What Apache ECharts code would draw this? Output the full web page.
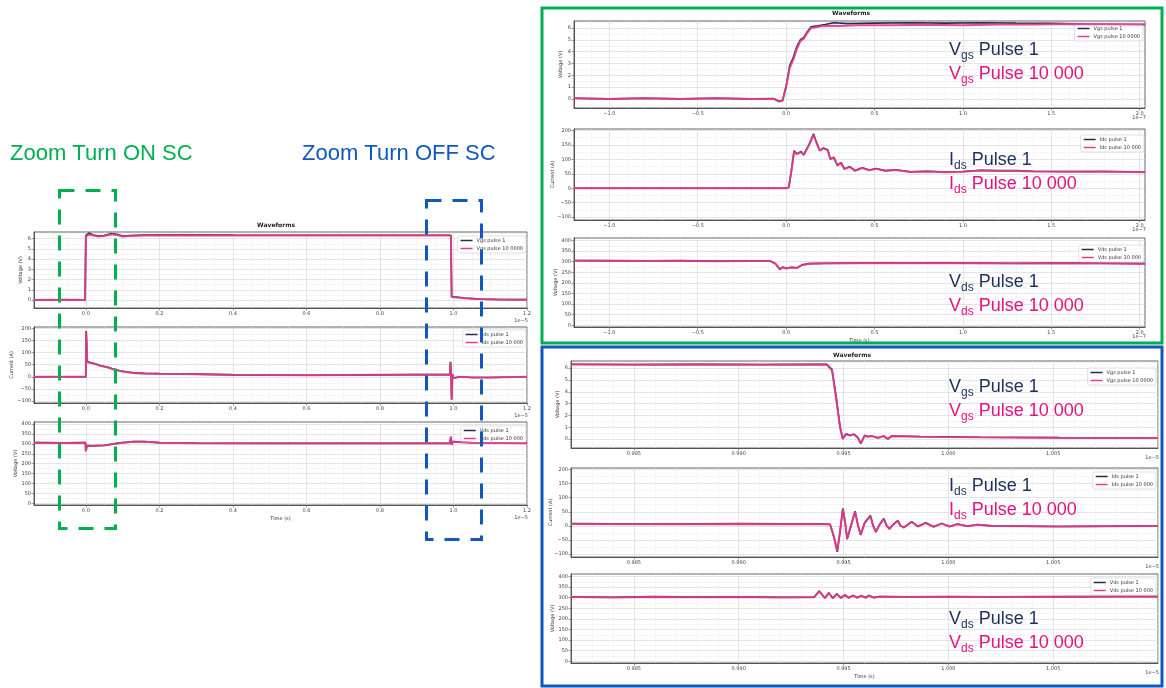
<!DOCTYPE html>
<html>
<head>
<meta charset="utf-8">
<script src="https://cdn.jsdelivr.net/npm/echarts@6/dist/echarts.min.js"></script>
<style>
html,body{margin:0;padding:0;background:#fff}
#chart{width:1166px;height:688px}
</style>
</head>
<body>
<div id="chart"></div>
<script>
// ---- Waveform samples (x in units of the axis offset: 1e-5 s or 1e-7 s) ----

// Full pulse, 1e-5 s
const fullVgsP1 = [[-0.141,0.03],[-0.1,0.0],[-0.06,0.05],[-0.02,0.0],[-0.002,0.02],[0.0,6.3],[0.008,6.55],[0.02,6.35],[0.035,6.25],[0.05,6.3],[0.07,6.5],[0.085,6.42],[0.1,6.25],[0.12,6.3],[0.16,6.36],[0.25,6.38],[0.4,6.35],[0.6,6.33],[0.8,6.33],[0.993,6.33],[0.995,0.35],[1.0,0.3],[1.03,0.2],[1.07,0.1],[1.12,0.06],[1.2,0.05]];
const fullVgsP10k = [[-0.141,0.02],[-0.1,0.04],[-0.06,0.0],[-0.02,0.03],[-0.002,0.0],[0.0,6.2],[0.008,6.4],[0.02,6.3],[0.035,6.2],[0.05,6.25],[0.07,6.42],[0.085,6.35],[0.1,6.2],[0.12,6.25],[0.16,6.3],[0.25,6.33],[0.4,6.32],[0.6,6.3],[0.8,6.3],[0.993,6.3],[0.995,0.3],[1.0,0.25],[1.03,0.18],[1.07,0.1],[1.12,0.05],[1.2,0.04]];
const fullIdsP1 = [[-0.141,0],[0.0,0],[0.001,188],[0.004,62],[0.01,60],[0.02,56],[0.04,46],[0.06,39],[0.08,29],[0.1,23],[0.13,16],[0.16,14],[0.2,13],[0.3,11],[0.4,8],[0.5,7],[0.6,6],[0.7,7],[0.8,8],[0.9,9],[0.99,9],[0.992,62],[0.994,-20],[0.995,-95],[0.997,12],[1.0,-5],[1.02,0],[1.05,-3],[1.1,-3],[1.2,0]];
const fullIdsP10k = [[-0.141,0],[0.0,0],[0.001,185],[0.004,60],[0.01,58],[0.02,55],[0.04,45],[0.06,38],[0.08,28],[0.1,22],[0.13,15],[0.16,13],[0.2,12],[0.3,10],[0.4,8],[0.5,7],[0.6,6],[0.7,7],[0.8,8],[0.9,8],[0.99,8],[0.992,60],[0.994,-20],[0.995,-92],[0.997,10],[1.0,-5],[1.02,0],[1.05,-3],[1.1,-3],[1.2,0]];
const fullVdsP1 = [[-0.141,306],[-0.05,305],[-0.001,306],[0.0,264],[0.003,291],[0.02,290],[0.05,293],[0.08,301],[0.1,306],[0.13,311],[0.16,311],[0.2,306],[0.3,304],[0.5,303],[0.7,303],[0.9,303],[0.99,303],[0.993,336],[0.995,296],[0.998,311],[1.02,309],[1.05,306],[1.2,304]];
const fullVdsP10k = [[-0.141,305],[-0.05,304],[-0.001,305],[0.0,262],[0.003,290],[0.02,290],[0.05,292],[0.08,300],[0.1,305],[0.13,310],[0.16,310],[0.2,305],[0.3,303],[0.5,302],[0.7,302],[0.9,302],[0.99,302],[0.993,335],[0.995,295],[0.998,310],[1.02,308],[1.05,305],[1.2,303]];

// Turn-on detail, 1e-7 s
const onVgsP1 = [[-1.2,0.05],[-1.0,0.0],[-0.8,0.06],[-0.6,0.0],[-0.4,0.05],[-0.2,0.0],[-0.07,0.02],[-0.04,-0.2],[-0.02,-0.12],[0.0,1.1],[0.02,2.8],[0.04,3.5],[0.06,4.4],[0.08,5.0],[0.1,5.2],[0.12,5.7],[0.14,6.1],[0.18,6.2],[0.22,6.3],[0.27,6.45],[0.35,6.38],[0.5,6.42],[0.7,6.45],[0.9,6.42],[1.1,6.45],[1.3,6.42],[1.5,6.4],[1.7,6.35],[2.03,6.3]];
const onVgsP10k = [[-1.2,0.05],[-1.0,0.0],[-0.8,0.05],[-0.6,0.0],[-0.4,0.05],[-0.2,0.0],[-0.07,0.0],[-0.04,-0.22],[-0.02,-0.15],[0.0,1.0],[0.02,2.6],[0.04,3.3],[0.06,4.2],[0.08,4.9],[0.1,5.1],[0.12,5.6],[0.14,6.0],[0.16,6.05],[0.2,6.15],[0.25,6.2],[0.3,6.18],[0.4,6.25],[0.6,6.25],[0.8,6.28],[1.0,6.25],[1.2,6.3],[1.4,6.3],[1.6,6.35],[1.8,6.33],[2.03,6.3]];
const onIdsP1 = [[-1.2,0],[-0.8,0],[-0.4,0],[0.0,0],[0.015,3],[0.03,62],[0.045,130],[0.06,119],[0.07,113],[0.085,127],[0.1,116],[0.13,152],[0.155,188],[0.17,162],[0.19,131],[0.21,139],[0.235,133],[0.25,101],[0.27,107],[0.29,79],[0.31,89],[0.33,67],[0.36,75],[0.39,61],[0.43,71],[0.47,63],[0.51,68],[0.56,61],[0.62,64],[0.7,57],[0.8,59],[0.9,56],[1.0,58],[1.1,62],[1.2,61],[1.3,61],[1.4,59],[1.6,58],[1.8,58],[2.03,56]];
const onIdsP10k = [[-1.2,0],[-0.8,0],[-0.4,0],[0.0,0],[0.015,3],[0.03,60],[0.045,128],[0.06,118],[0.07,112],[0.085,125],[0.1,115],[0.13,150],[0.155,185],[0.17,160],[0.19,130],[0.21,138],[0.235,132],[0.25,100],[0.27,106],[0.29,78],[0.31,88],[0.33,66],[0.36,74],[0.39,60],[0.43,70],[0.47,62],[0.51,67],[0.56,60],[0.62,63],[0.7,56],[0.8,58],[0.9,55],[1.0,57],[1.1,61],[1.2,60],[1.3,60],[1.4,58],[1.6,57],[1.8,58],[2.03,55]];
const onVdsP1 = [[-1.2,306],[-1.0,305],[-0.8,304],[-0.6,305],[-0.4,303],[-0.2,304],[-0.09,304],[-0.06,291],[-0.035,264],[-0.02,275],[0.0,269],[0.03,274],[0.06,271],[0.09,285],[0.13,291],[0.22,293],[0.4,294],[0.7,295],[1.0,294],[1.3,293],[1.6,294],[1.8,293],[2.03,291]];
const onVdsP10k = [[-1.2,305],[-1.0,304],[-0.8,303],[-0.6,304],[-0.4,302],[-0.2,303],[-0.09,303],[-0.06,290],[-0.035,263],[-0.02,274],[0.0,268],[0.03,273],[0.06,270],[0.09,284],[0.13,290],[0.22,292],[0.4,293],[0.7,294],[1.0,293],[1.3,292],[1.6,293],[1.8,292],[2.03,290]];

// Turn-off detail, 1e-5 s
const offVgsP1 = [[0.982,6.32],[0.985,6.3],[0.988,6.32],[0.991,6.3],[0.9942,6.32],[0.99445,5.9],[0.99464,3.7],[0.99483,1.1],[0.99496,0.05],[0.99512,0.45],[0.99531,0.32],[0.9955,0.42],[0.99569,0.12],[0.99582,-0.35],[0.99601,0.32],[0.99616,0.22],[0.99635,0.27],[0.99664,0.12],[0.99692,0.27],[0.99711,0.02],[0.9973,0.27],[0.99863,0.22],[0.99958,0.2],[1.00149,0.16],[1.00529,0.13],[1.01,0.1]];
const offVgsP10k = [[0.982,6.3],[0.985,6.28],[0.988,6.3],[0.991,6.28],[0.9942,6.3],[0.99445,5.8],[0.99464,3.5],[0.99483,1.0],[0.99496,0.0],[0.99512,0.4],[0.99531,0.3],[0.9955,0.4],[0.99569,0.1],[0.99582,-0.4],[0.99601,0.3],[0.99616,0.2],[0.99635,0.25],[0.99664,0.1],[0.99692,0.25],[0.99711,0.0],[0.9973,0.25],[0.99863,0.2],[0.99958,0.18],[1.00149,0.15],[1.00529,0.12],[1.01,0.1]];
const offIdsP1 = [[0.982,8],[0.986,7],[0.99,8],[0.994,7],[0.99436,6],[0.99455,-42],[0.9947,-92],[0.99483,-22],[0.99497,62],[0.99508,12],[0.99517,-47],[0.99531,-12],[0.99555,52],[0.99569,2],[0.99582,-32],[0.99601,12],[0.99628,37],[0.99641,2],[0.99654,-22],[0.99673,6],[0.99692,26],[0.99706,1],[0.99719,-11],[0.99738,6],[0.99759,19],[0.99772,1],[0.99787,-6],[0.99825,15],[0.99854,-2],[0.99892,11],[0.9993,-3],[0.99968,9],[1.00006,-2],[1.00044,7],[1.00092,-1],[1.00139,5],[1.00206,0],[1.00529,-2],[1.01,0]];
const offIdsP10k = [[0.982,7],[0.986,6],[0.99,7],[0.994,6],[0.99436,5],[0.99455,-40],[0.9947,-90],[0.99483,-20],[0.99497,60],[0.99508,10],[0.99517,-45],[0.99531,-10],[0.99555,50],[0.99569,0],[0.99582,-30],[0.99601,10],[0.99628,35],[0.99641,0],[0.99654,-20],[0.99673,5],[0.99692,25],[0.99706,0],[0.99719,-10],[0.99738,5],[0.99759,18],[0.99772,0],[0.99787,-5],[0.99825,14],[0.99854,-2],[0.99892,10],[0.9993,-3],[0.99968,8],[1.00006,-2],[1.00044,6],[1.00092,-1],[1.00139,4],[1.00206,0],[1.00529,-2],[1.01,0]];
const offVdsP1 = [[0.982,304],[0.984,302],[0.986,305],[0.988,303],[0.99,304],[0.992,302],[0.9936,303],[0.99384,332],[0.99411,299],[0.9943,323],[0.99449,298],[0.99468,319],[0.99487,299],[0.99506,313],[0.99525,300],[0.99544,311],[0.99565,301],[0.99584,309],[0.99607,301],[0.9962,311],[0.99645,301],[0.99673,306],[0.998,304],[1.0,305],[1.002,304],[1.005,305],[1.008,306],[1.01,306]];
const offVdsP10k = [[0.982,303],[0.984,301],[0.986,304],[0.988,302],[0.99,303],[0.992,301],[0.9936,302],[0.99384,330],[0.99411,298],[0.9943,322],[0.99449,297],[0.99468,318],[0.99487,298],[0.99506,312],[0.99525,299],[0.99544,310],[0.99565,300],[0.99584,308],[0.99607,300],[0.9962,310],[0.99645,300],[0.99673,305],[0.998,303],[1.0,304],[1.002,303],[1.005,304],[1.008,305],[1.01,305]];

// ---- Tick labels ----
const fullXTicks = [0.0,0.2,0.4,0.6,0.8,1.0,1.2];
const onXTicks = [-1.0,-0.5,0.0,0.5,1.0,1.5,2.0];
const offXTicks = [0.985,0.990,0.995,1.000,1.005];
const vgsTicks = [0,1,2,3,4,5,6];
const idsTicks = [-100,-50,0,50,100,150,200];
const vdsTicks = [0,50,100,150,200,250,300,350,400];

// ---- Series / legend names ----
const vgsNames = ['Vgs pulse 1','Vgs pulse 10 0000'];
const idsNames = ['Ids pulse 1','Ids pulse 10 000'];
const vdsNames = ['Vds pulse 1','Vds pulse 10 000'];

const DARK = '#262c4a';
const PINK = '#e23d8d';
const NAVY = '#1d2f5e';
const MAGENTA = '#e6117f';
const GREEN = '#00b050';
const BLUE = '#1157c0';

const grid = [], xAxis = [], yAxis = [], series = [], legend = [], graphic = [];
const tickText = {fontFamily:'DejaVu Sans', fontSize:5, color:'#444'};

function steps(a, b, s) {
  const out = [];
  for (let i = 0; a + i * s <= b + 1e-9; i++) out.push(Math.round((a + i * s) * 1e6) / 1e6);
  return out;
}
function fmt(v, d) {
  const s = Math.abs(v).toFixed(d);
  return v < -1e-12 ? '\u2212' + s : s;
}

function addPlot(p) {
  const gi = grid.length;
  const [l, t, w, h] = p.rect;
  grid.push({left:l, top:t, width:w, height:h, show:true, backgroundColor:'#fff',
    borderColor:'#3c3c3c', borderWidth:0.8, outerBoundsMode:'none'});
  const minorX = steps(p.xMinor[0], p.x[1], p.xMinor[1]).filter(v => v >= p.x[0] && !p.xTicks.some(t => Math.abs(t - v) < 1e-7));
  const minorY = steps(p.yMinor[0], p.y[1], p.yMinor[1]).filter(v => v >= p.y[0] && !p.yTicks.some(t => Math.abs(t - v) < 1e-7));
  xAxis.push({gridIndex:gi, type:'value', min:p.x[0], max:p.x[1], position:'bottom',
    axisLine:{show:true, onZero:false, lineStyle:{color:'#3c3c3c', width:0.8}},
    axisTick:{show:true, length:2.5, customValues:p.xTicks, lineStyle:{color:'#555', width:0.6}},
    axisLabel:{customValues:p.xTicks, margin:3, formatter:v => fmt(v, p.xDec), ...tickText},
    splitLine:{show:true, lineStyle:{color:'#d4d4d4', width:0.6}},
    name:p.xName || '', nameLocation:'middle', nameGap:11, nameMoveOverlap:false,
    nameTextStyle:{fontFamily:'DejaVu Sans', fontSize:5, color:'#333'}});
  xAxis.push({gridIndex:gi, type:'value', min:p.x[0], max:p.x[1], position:'top',
    axisLine:{show:false}, axisTick:{show:false, customValues:minorX},
    axisLabel:{show:false, customValues:minorX},
    splitLine:{show:true, lineStyle:{color:'#ededed', width:0.5}}});
  yAxis.push({gridIndex:gi, type:'value', min:p.y[0], max:p.y[1], position:'left',
    axisLine:{show:true, onZero:false, lineStyle:{color:'#3c3c3c', width:0.8}},
    axisTick:{show:true, length:2.5, customValues:p.yTicks, lineStyle:{color:'#555', width:0.6}},
    axisLabel:{customValues:p.yTicks, margin:3, formatter:v => fmt(v, 0), ...tickText},
    splitLine:{show:true, lineStyle:{color:'#d4d4d4', width:0.6}},
    name:p.yName, nameLocation:'middle', nameGap:p.yNameGap, nameMoveOverlap:false,
    nameTextStyle:{fontFamily:'DejaVu Sans', fontSize:5, color:'#333'}});
  yAxis.push({gridIndex:gi, type:'value', min:p.y[0], max:p.y[1], position:'right',
    axisLine:{show:false}, axisTick:{show:false, customValues:minorY},
    axisLabel:{show:false, customValues:minorY},
    splitLine:{show:true, lineStyle:{color:'#ededed', width:0.5}}});
  series.push({type:'line', name:p.names[0], xAxisIndex:2 * gi, yAxisIndex:2 * gi, data:p.data[0],
    symbol:'none', showSymbol:false, lineStyle:{color:DARK, width:1.6}, itemStyle:{color:DARK}, z:3});
  series.push({type:'line', name:p.names[1], xAxisIndex:2 * gi, yAxisIndex:2 * gi, data:p.data[1],
    symbol:'none', showSymbol:false, lineStyle:{color:PINK, width:2, opacity:0.92}, itemStyle:{color:PINK}, z:4});
  legend.push({data:p.names, orient:'vertical', right:1166 - p.legend[0], top:p.legend[1],
    icon:'rect', itemWidth:12, itemHeight:1.5, itemGap:3, selectedMode:false,
    backgroundColor:'rgba(255,255,255,0.9)', borderColor:'#cfcfcf', borderWidth:0.6, borderRadius:2,
    padding:[2, 3], textStyle:{fontFamily:'DejaVu Sans', fontSize:5, color:'#333', padding:[0, 0, 0, -1]}});
  graphic.push({type:'text', x:l + w + 1, y:t + h + p.offsetDy, z:50,
    style:{text:p.offset, fontFamily:'DejaVu Sans', fontSize:5, fill:'#444', align:'right', verticalAlign:'middle'}});
}

// Full pulse panel
const fullX = [-0.141, 1.2];
addPlot({rect:[34,232,493,76], x:fullX, xTicks:fullXTicks, xMinor:[-0.1,0.05], xDec:1,
  y:[-0.77,6.65], yTicks:vgsTicks, yMinor:[-0.5,0.5], yName:'Voltage (V)', yNameGap:11,
  data:[fullVgsP1, fullVgsP10k], names:vgsNames, legend:[526,236], offset:'1e\u22125', offsetDy:13});
addPlot({rect:[34,327,493,76], x:fullX, xTicks:fullXTicks, xMinor:[-0.1,0.05], xDec:1,
  y:[-108,205], yTicks:idsTicks, yMinor:[-75,50], yName:'Current (A)', yNameGap:20,
  data:[fullIdsP1, fullIdsP10k], names:idsNames, legend:[526,330], offset:'1e\u22125', offsetDy:13});
addPlot({rect:[34,422,493,83], x:fullX, xTicks:fullXTicks, xMinor:[-0.1,0.05], xDec:1,
  y:[-8,410], yTicks:vdsTicks, yMinor:[25,50], yName:'Voltage (V)', yNameGap:16, xName:'Time (s)',
  data:[fullVdsP1, fullVdsP10k], names:vdsNames, legend:[526,426], offset:'1e\u22125', offsetDy:13});

// Turn-on detail panel
const onX = [-1.2, 2.03];
addPlot({rect:[574,21,571,87], x:onX, xTicks:onXTicks, xMinor:[-1.1,0.1], xDec:1,
  y:[-0.77,6.6], yTicks:vgsTicks, yMinor:[-0.5,0.5], yName:'Voltage (V)', yNameGap:11,
  data:[onVgsP1, onVgsP10k], names:vgsNames, legend:[1143,24], offset:'1e\u22127', offsetDy:10});
addPlot({rect:[574,129,571,91], x:onX, xTicks:onXTicks, xMinor:[-1.1,0.1], xDec:1,
  y:[-110,205], yTicks:idsTicks, yMinor:[-75,50], yName:'Current (A)', yNameGap:19,
  data:[onIdsP1, onIdsP10k], names:idsNames, legend:[1144,135], offset:'1e\u22127', offsetDy:10});
addPlot({rect:[574,238,571,89], x:onX, xTicks:onXTicks, xMinor:[-1.1,0.1], xDec:1,
  y:[-8,412], yTicks:vdsTicks, yMinor:[25,50], yName:'Voltage (V)', yNameGap:16, xName:'Time (s)',
  data:[onVdsP1, onVdsP10k], names:vdsNames, legend:[1144,245], offset:'1e\u22127', offsetDy:10});

// Turn-off detail panel
const offX = [0.982, 1.010];
addPlot({rect:[571,361,587,87], x:offX, xTicks:offXTicks, xMinor:[0.982,0.001], xDec:3,
  y:[-0.75,6.6], yTicks:vgsTicks, yMinor:[-0.5,0.5], yName:'Voltage (V)', yNameGap:11,
  data:[offVgsP1, offVgsP10k], names:vgsNames, legend:[1156,368], offset:'1e\u22125', offsetDy:10});
addPlot({rect:[571,468,587,89], x:offX, xTicks:offXTicks, xMinor:[0.982,0.001], xDec:3,
  y:[-110,205], yTicks:idsTicks, yMinor:[-75,50], yName:'Current (A)', yNameGap:18,
  data:[offIdsP1, offIdsP10k], names:idsNames, legend:[1156,472], offset:'1e\u22125', offsetDy:10});
addPlot({rect:[571,574,587,89], x:offX, xTicks:offXTicks, xMinor:[0.982,0.001], xDec:3,
  y:[-8,412], yTicks:vdsTicks, yMinor:[25,50], yName:'Voltage (V)', yNameGap:16, xName:'Time (s)',
  data:[offVdsP1, offVdsP10k], names:vdsNames, legend:[1156,578], offset:'1e\u22125', offsetDy:10});

// Panel titles
[[276,225],[851,13],[852,355]].forEach(([x, y]) => graphic.push({type:'text', x, y, z:50,
  style:{text:'Waveforms', fontFamily:'DejaVu Sans', fontWeight:'bold', fontSize:6, fill:'#222', align:'center', verticalAlign:'middle'}}));

// Zoom callouts
graphic.push({type:'text', x:10, y:154, z:60, style:{text:'Zoom Turn ON SC', fontFamily:'Liberation Sans', fontSize:22, fill:GREEN, align:'left', verticalAlign:'middle'}});
graphic.push({type:'text', x:302, y:154, z:60, style:{text:'Zoom Turn OFF SC', fontFamily:'Liberation Sans', fontSize:22, fill:BLUE, align:'left', verticalAlign:'middle'}});
graphic.push({type:'rect', z:60, shape:{x:59.5, y:190.5, width:56, height:338}, style:{fill:'none', stroke:GREEN, lineWidth:3, lineDash:[15,11]}});
graphic.push({type:'rect', z:60, shape:{x:426.5, y:200.5, width:55, height:339}, style:{fill:'none', stroke:BLUE, lineWidth:3, lineDash:[15,11]}});
graphic.push({type:'rect', z:60, shape:{x:542, y:8, width:1162 - 542, height:335}, style:{fill:'none', stroke:GREEN, lineWidth:3}});
graphic.push({type:'rect', z:60, shape:{x:542, y:347, width:1162 - 542, height:339}, style:{fill:'none', stroke:BLUE, lineWidth:3}});

// Pulse annotations with subscripts
function annotate(x, y, letter, sub) {
  const big = {fontFamily:'Liberation Sans', fontSize:18, lineHeight:24};
  const small = {fontFamily:'Liberation Sans', fontSize:12, lineHeight:12, verticalAlign:'bottom'};
  graphic.push({type:'text', x, y, z:70, style:{
    text:`{a|${letter}}{b|${sub}}{a| Pulse 1}\n{c|${letter}}{d|${sub}}{c| Pulse 10 000}`,
    rich:{a:{...big, fill:NAVY}, b:{...small, fill:NAVY}, c:{...big, fill:MAGENTA}, d:{...small, fill:MAGENTA}}}});
}
annotate(949, 38, 'V', 'gs');
annotate(949, 148, 'I', 'ds');
annotate(949, 270, 'V', 'ds');
annotate(949, 375, 'V', 'gs');
annotate(949, 474, 'I', 'ds');
annotate(949, 607, 'V', 'ds');

const chart = echarts.init(document.getElementById('chart'), null, {renderer:'canvas'});
chart.setOption({animation:false, backgroundColor:'#fff', grid, xAxis, yAxis, series, legend, graphic});
</script>
</body>
</html>
